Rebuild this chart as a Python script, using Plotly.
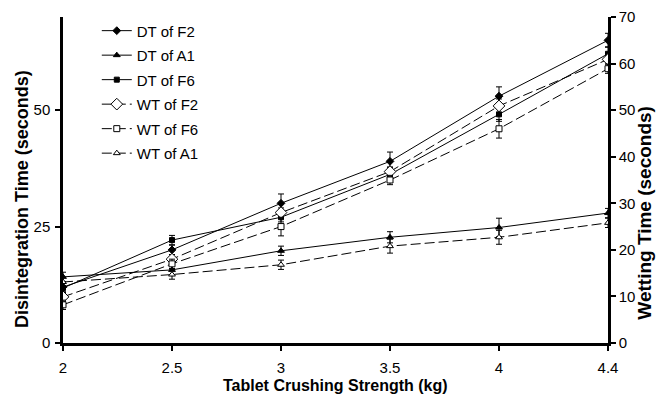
import plotly.graph_objects as go

categories = ["2", "2.5", "3", "3.5", "4", "4.4"]

dt_f2 = [12.0, 20.0, 30.0, 39.0, 53.0, 65.0]
dt_a1 = [14.2, 15.7, 19.8, 22.7, 24.8, 27.9]
dt_f6 = [11.8, 22.1, 27.0, 36.2, 49.1, 62.1]
wt_f2 = [9.9, 18.0, 28.0, 36.8, 50.9, 60.9]
wt_f6 = [8.2, 17.0, 25.0, 35.0, 46.0, 58.9]
wt_a1 = [13.1, 14.7, 16.8, 20.8, 22.7, 25.8]

err_dt_f2 = [1.0, 1.0, 2.0, 2.0, 2.0, 1.5]
err_dt_a1 = [1.0, 1.0, 1.0, 1.2, 2.0, 1.0]
err_dt_f6 = [1.0, 1.0, 1.0, 1.5, 1.5, 1.5]
err_wt_f2 = [1.0, 1.0, 1.0, 1.0, 1.5, 1.0]
err_wt_f6 = [1.0, 1.0, 2.0, 1.0, 2.0, 1.0]
err_wt_a1 = [1.0, 1.0, 1.0, 1.5, 1.5, 1.0]

xpos = list(range(len(categories)))

series = [
    ("DT of F2", dt_f2, err_dt_f2, "y", "solid", "diamond", "black", 6),
    ("DT of A1", dt_a1, err_dt_a1, "y", "solid", "triangle-up", "black", 6),
    ("DT of F6", dt_f6, err_dt_f6, "y", "solid", "square", "black", 5),
    ("WT of F2", wt_f2, err_wt_f2, "y2", "10px,4px", "diamond", "white", 9),
    ("WT of F6", wt_f6, err_wt_f6, "y2", "10px,4px", "square", "white", 6),
    ("WT of A1", wt_a1, err_wt_a1, "y2", "10px,4px", "triangle-up", "white", 6),
]

fig = go.Figure()
for i, (name, vals, errs, yax, dash, sym, fill, size) in enumerate(series):
    fig.add_trace(go.Scatter(
        x=xpos, y=vals, name=name, yaxis=yax, mode="lines+markers",
        legendgroup="g%d" % i,
        line=dict(color="black", width=1, dash=dash),
        marker=dict(symbol=sym, size=size, color=fill,
                    line=dict(color="black", width=1)),
        error_y=dict(type="data", array=errs, visible=True,
                     color="black", thickness=1, width=3),
    ))

font_family = "Arial, Liberation Sans, sans-serif"
axis_common = dict(showgrid=False, zeroline=False, showline=True,
                   linecolor="black", linewidth=2.5, ticks="outside",
                   ticklen=5, tickwidth=2, tickcolor="black", automargin=False,
                   tickfont=dict(family=font_family, size=15, color="black"))
inner_ticks = dict(showgrid=False, zeroline=False, showline=False,
                   ticks="inside", ticklen=5, tickwidth=2, automargin=False,
                   tickcolor="black", showticklabels=False)

fig.update_layout(
    width=656, height=401,
    margin=dict(l=63, r=48, t=17, b=58),
    paper_bgcolor="white", plot_bgcolor="white",
    font=dict(family=font_family, color="black"),
    xaxis=dict(range=[0, 5], tickvals=xpos, ticktext=categories,
               ticklabelstandoff=4, **axis_common),
    xaxis2=dict(range=[0, 5], tickvals=xpos, overlaying="x", anchor="y",
                side="bottom", **inner_ticks),
    yaxis=dict(range=[0, 70], tickvals=[0, 25, 50], ticklabelstandoff=2,
               **axis_common),
    yaxis2=dict(range=[0, 70], tickvals=[0, 10, 20, 30, 40, 50, 60, 70],
                overlaying="y", side="right", anchor="x",
                **axis_common),
    yaxis3=dict(range=[0, 70], tickvals=[0, 25, 50], overlaying="y",
                side="left", anchor="x", **inner_ticks),
    yaxis4=dict(range=[0, 70], tickvals=[0, 10, 20, 30, 40, 50, 60, 70],
                overlaying="y", side="right", anchor="x", **inner_ticks),
    legend=dict(x=0.062, y=1.008, xanchor="left", yanchor="top",
                font=dict(size=15, family=font_family, color="black"),
                bgcolor="rgba(0,0,0,0)", tracegroupgap=2, itemwidth=30),
    showlegend=True,
    annotations=[
        dict(text="<b>Tablet Crushing Strength (kg)</b>",
             xref="paper", yref="paper", x=0.5, y=-0.131,
             xanchor="center", yanchor="middle", showarrow=False,
             font=dict(size=16, family=font_family, color="black")),
        dict(text="<b>Disintegration Time (seconds)</b>", textangle=-90,
             xref="paper", yref="paper", x=-0.075, y=0.442,
             xanchor="center", yanchor="middle", showarrow=False,
             font=dict(size=18, family=font_family, color="black")),
        dict(text="<b>Wetting Time (seconds)</b>", textangle=-90,
             xref="paper", yref="paper", x=1.068, y=0.40,
             xanchor="center", yanchor="middle", showarrow=False,
             font=dict(size=19, family=font_family, color="black")),
    ],
)

fig.write_html("out.html")
